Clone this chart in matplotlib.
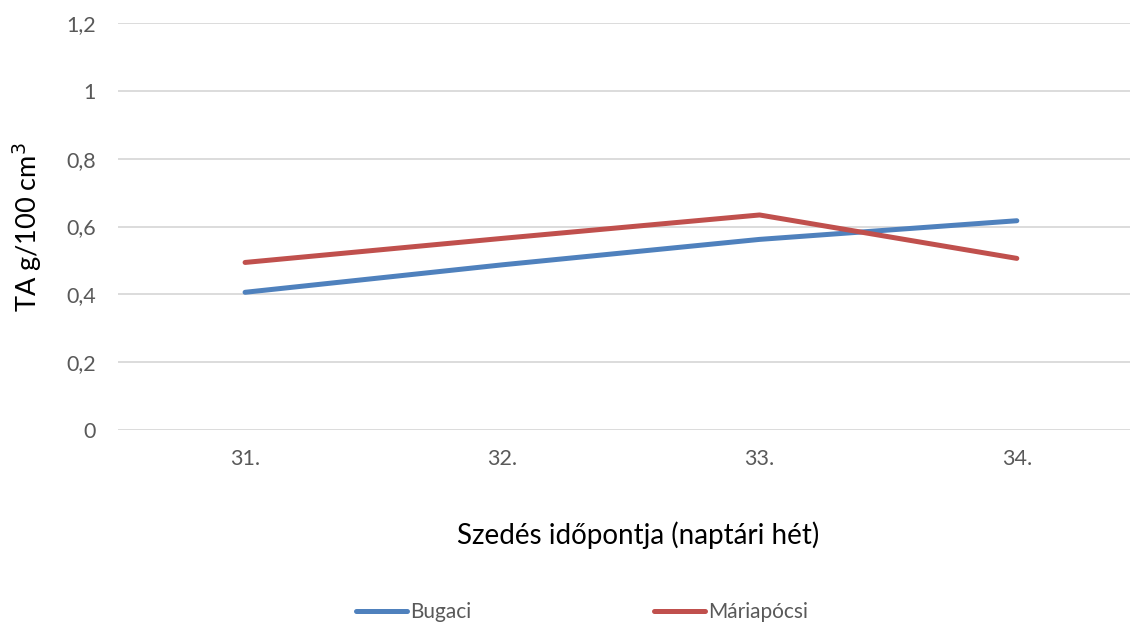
import matplotlib.pyplot as plt
from matplotlib.ticker import FuncFormatter

# data
weeks = [31, 32, 33, 34]
week_labels = ['31.', '32.', '33.', '34.']
bugaci = [0.406, 0.487, 0.562, 0.617]
mariapocsi = [0.494, 0.565, 0.634, 0.506]
series_names = ['Bugaci', 'Máriapócsi']

plt.rcParams['font.family'] = ['Lato', 'DejaVu Sans']

fig = plt.figure(figsize=(11.3, 6.25), dpi=100)
ax = fig.add_axes([118 / 1130, 1 - 430 / 625, 1 - 118 / 1130, (430 - 23) / 625])

ax.plot(weeks, bugaci, color='#4F81BD', lw=3.6, solid_capstyle='round', label=series_names[0])
ax.plot(weeks, mariapocsi, color='#C0504D', lw=3.6, solid_capstyle='round', label=series_names[1])

ax.set_xlim(30.506, 34.44)
ax.set_ylim(0, 1.2)
ax.set_yticks([0, 0.2, 0.4, 0.6, 0.8, 1.0, 1.2])
ax.yaxis.set_major_formatter(FuncFormatter(lambda v, p: ('%g' % round(v, 1)).replace('.', ',')))
ax.set_xticks(weeks)
ax.set_xticklabels(week_labels)

ax.grid(axis='y', color='#D9D9D9', lw=1.3)
ax.set_axisbelow(True)
for s in ax.spines.values():
    s.set_visible(False)
ax.tick_params(length=0, labelsize=15.5, labelcolor='#595959')
ax.tick_params(axis='y', pad=16)
ax.tick_params(axis='x', pad=14)

fig.text(0.565, 1 - 535 / 625, 'Szedés időpontja (naptári hét)', ha='center', va='center', fontsize=20)
fig.text(27 / 1130, 1 - 227 / 625, 'TA g/100 cm$^3$', ha='center', va='center', rotation=90, fontsize=19.5)

leg = fig.legend(loc='center', bbox_to_anchor=(0.515, 1 - 612 / 625), ncol=2, frameon=False,
                 fontsize=15, handlelength=2.45, handletextpad=0.15, columnspacing=8.75)
for t in leg.get_texts():
    t.set_color('#595959')

fig.savefig('out.png', dpi=100)
